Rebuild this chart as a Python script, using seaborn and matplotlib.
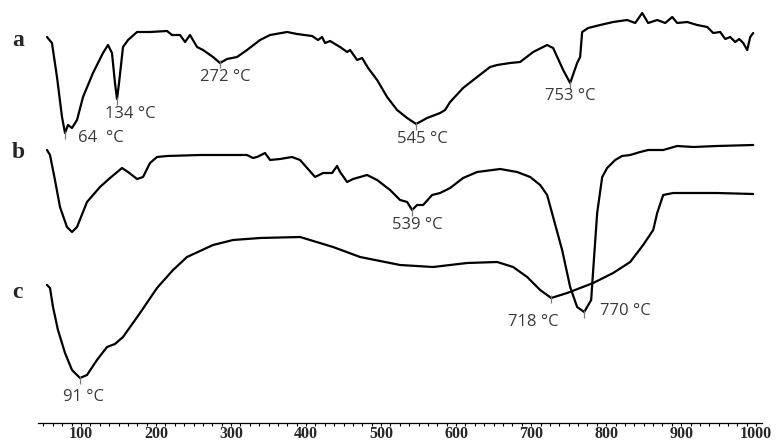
import numpy as np
import pandas as pd
import matplotlib
matplotlib.use("Agg")
import matplotlib.pyplot as plt
import seaborn as sns

# ---- data (temperature in °C, downward deflection in arbitrary units) ----
temp_a = [54.7, 61.3, 68, 74.7, 78.7, 82.7, 88, 94.7, 102.7, 116, 129.3, 136, 141.3, 145.3, 148,
          150.7, 156, 162.7, 174.7, 192, 214.7, 221.3, 232, 238.7, 245.3, 254.7, 262.7, 276,
          285.3, 294.7, 308, 321.3, 338.7, 352, 374.7, 388, 408, 416, 421.3, 425.3, 432, 445.3,
          454.7, 458.7, 468, 474.7, 482.7, 494.7, 508, 521.3, 534.7, 546.7, 561.3, 578.7, 585.3,
          592, 609.3, 628, 645.3, 654.7, 672, 685.3, 702.7, 721.3, 729.3, 742.7, 752, 761.3,
          765.3, 768, 776, 792, 809.3, 828, 838.7, 848, 856, 868, 878.7, 888, 894.7, 908, 921.3,
          934.7, 942.7, 952, 958.7, 965.3, 972, 977.3, 982.7, 988, 992, 996]
dta_a = [37, 43, 77, 117, 133, 125, 128, 120, 97, 73, 53, 45, 53, 83, 99,
         83, 47, 40, 32, 32, 31, 35, 35, 42, 35, 47, 50, 57,
         63, 59, 57, 50, 40, 35, 32, 34, 36, 40, 37, 43, 41, 47,
         52, 50, 60, 58, 68, 80, 97, 110, 118, 124, 118, 113, 110,
         102, 88, 77, 67, 65, 63, 62, 52, 45, 48, 70, 83, 63,
         57, 32, 28, 25, 22, 20, 23, 13, 23, 20, 23, 17, 23, 22, 25,
         27, 33, 32, 39, 37, 42, 39, 43, 50, 37, 33]

temp_b = [54.7, 58.7, 65.3, 72, 81.3, 88, 94.7, 108, 125.3, 138.7, 154.7, 162.7, 174.7, 182.7,
          192, 201.3, 214.7, 258.7, 302.7, 321.3, 329.3, 334.7, 345.3, 352, 365.3, 381.3, 392,
          412, 422.7, 434.7, 441.3, 445.3, 454.7, 462.7, 481.3, 494.7, 512, 525.3, 534.7, 541.3,
          548, 556, 568, 578.7, 592, 609.3, 628, 658.7, 681.3, 698.7, 712, 721.3, 729.3, 741.3,
          752, 761.3, 770.7, 780, 782.7, 788, 794.7, 801.3, 812, 821.3, 832, 845.3, 856, 876,
          894.7, 916, 948, 996]
dta_b = [150, 155, 180, 207, 227, 232, 227, 202, 187, 178, 168, 172, 179, 177,
         163, 157, 156, 155, 155, 155, 158, 157, 153, 160, 159, 157, 160,
         177, 173, 173, 166, 172, 182, 179, 175, 180, 190, 200, 202, 210,
         205, 205, 195, 193, 188, 178, 172, 169, 172, 177, 185, 195, 217, 250,
         287, 307, 312, 300, 270, 213, 177, 168, 160, 156, 155, 152, 150, 150,
         146, 147, 146, 145]

temp_c = [54.7, 58.7, 62.7, 69.3, 78.7, 88, 98.7, 108, 121.3, 134.7, 145.3, 156, 178.7, 201.3,
          222.7, 241.3, 276, 302.7, 338.7, 392, 436, 472, 525.3, 569.3, 614.7, 654.7, 676, 694.7,
          712, 726.7, 748, 782.7, 809.3, 832, 849.3, 862.7, 868, 876, 889.3, 948, 996]
dta_c = [285, 288, 307, 330, 353, 370, 378, 375, 360, 347, 344, 337, 313, 288,
         270, 257, 245, 240, 238, 237, 247, 257, 265, 267, 263, 262, 267, 277,
         290, 298, 293, 283, 273, 262, 245, 230, 213, 195, 193, 193, 194]

# peak markers and annotations
peak_T = [78.7, 148, 285.3, 546.7, 752, 541.3, 770.7, 98.7, 726.7]
peak_y = [135, 101, 64, 126, 85, 212, 314, 380, 299]
label_text = ["64  °C", "134 °C", "272 °C", "545 °C", "753 °C", "539 °C", "770 °C", "91 °C", "718 °C"]
label_T = [96, 132, 258.7, 521, 718.7, 514.7, 792, 76, 669]
label_y = [138, 114, 77, 139, 96, 225, 311, 397, 322]

curve_names = ["a", "b", "c"]
curve_name_y = [41, 152, 292]

tick_values = [100, 200, 300, 400, 500, 600, 700, 800, 900, 1000]

# ---- figure ----
sns.set_theme(style="white")
W, H = 776, 443
fig = plt.figure(figsize=(W / 100, H / 100), dpi=100)
ax = fig.add_axes([38 / W, (H - 423) / H, (762 - 38) / W, 423 / H])

for t, d in [(temp_a, dta_a), (temp_b, dta_b), (temp_c, dta_c)]:
    df = pd.DataFrame({"T": t, "y": d})
    sns.lineplot(data=df, x="T", y="y", ax=ax, color="black", linewidth=1.6,
                 sort=False, estimator=None)

ax.plot(peak_T, peak_y, linestyle="none", marker="|", markersize=6,
        markeredgewidth=0.9, color="#777777")

for txt, tx, ty in zip(label_text, label_T, label_y):
    ax.text(tx, ty, txt, fontsize=12, family="Open Sans", color="#3a3a3a",
            ha="left", va="center")

for name, ny in zip(curve_names, curve_name_y):
    ax.text(8, ny, name, fontsize=17, family="Liberation Serif", fontweight="bold",
            ha="left", va="center", clip_on=False)

ax.set_xlim(42.7, 1007.7)
ax.set_ylim(423, 0)
ax.set_xticks(tick_values)
ax.set_xticklabels([str(v) for v in tick_values], fontsize=11.5,
                   family="Liberation Serif", fontweight="bold")
ax.set_xticks(np.arange(50, 1001, 12.5), minor=True)
ax.set_yticks([])
ax.set_xlabel("")
ax.set_ylabel("")
for s in ["top", "right", "left"]:
    ax.spines[s].set_visible(False)
ax.spines["bottom"].set_color("black")
ax.spines["bottom"].set_linewidth(0.9)
ax.tick_params(axis="x", which="both", direction="out", length=2, width=0.8,
               color="black", bottom=True, pad=0.5)
ax.patch.set_alpha(0)

fig.savefig("out.png", dpi=100)
